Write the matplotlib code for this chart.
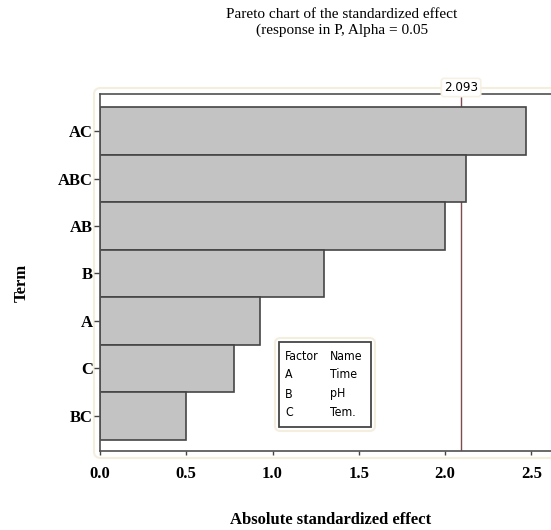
import numpy as np
import matplotlib.pyplot as plt
from matplotlib.patches import Rectangle, FancyBboxPatch

# data (top to bottom)
terms = ["AC", "ABC", "AB", "B", "A", "C", "BC"]
effects = [2.47, 2.12, 2.00, 1.30, 0.925, 0.775, 0.50]
ref_value = 2.093
x_ticks = [0.0, 0.5, 1.0, 1.5, 2.0, 2.5]
factor_rows = [("Factor", "Name"), ("A", "Time"), ("B", "pH"), ("C", "Tem.")]

W, H = 551, 530
fig = plt.figure(figsize=(W / 100, H / 100), dpi=100)

def fx(px):
    return px / W

def fy(py):
    return 1 - py / H

# faint beige rounded outline behind plot area
glow = FancyBboxPatch((fx(94), fy(458)), fx(480), fy(88) - fy(458),
                      boxstyle="round,pad=0,rounding_size=0.012",
                      transform=fig.transFigure, facecolor="none",
                      edgecolor="#f4eedf", lw=1.5, zorder=-1)
fig.patches.append(glow)

ax = fig.add_axes([fx(100), fy(451), 1 - fx(100), fy(94) - fy(451)])
ax.patch.set_alpha(0)

ypos = np.arange(len(terms))[::-1]
ax.barh(ypos, effects, height=1.0, color="#c3c3c3", edgecolor="#454545",
        lw=1.2, zorder=2)
ax.axvline(ref_value, color="#7d4c50", lw=1.0, zorder=1)

ax.set_xlim(0, (W - 100) / 172.5)
ax.set_ylim(-0.74, len(terms) - 1 + 0.78)

ax.set_yticks(ypos)
ax.set_yticklabels(terms, family="Liberation Serif", fontweight="bold", fontsize=12)
ax.set_xticks(x_ticks)
ax.set_xticklabels([f"{v:.1f}" for v in x_ticks], family="Liberation Serif",
                   fontweight="bold", fontsize=12)
ax.tick_params(axis="y", length=4, width=1, color="#454545", pad=1)
ax.tick_params(axis="x", length=3, width=1, color="#454545", pad=8)

for side in ["left", "top", "bottom"]:
    ax.spines[side].set_color("#505050")
    ax.spines[side].set_linewidth(1.2)
ax.spines["right"].set_visible(False)

# reference value label on a tab above the frame
ax.text(ref_value, 1.0, "2.093", transform=ax.get_xaxis_transform(),
        ha="center", va="bottom", fontsize=9.5, family="DejaVu Sans",
        fontstretch="condensed",
        bbox=dict(boxstyle="round,pad=0.2", facecolor="white",
                  edgecolor="#f6f1e4", lw=1.2))

# factor table
box = Rectangle((fx(279), fy(427)), fx(371) - fx(279), fy(342) - fy(427),
                transform=fig.transFigure, facecolor="white",
                edgecolor="#454545", lw=1.3, zorder=5)
fig.patches.append(box)
outer = FancyBboxPatch((fx(275), fy(431)), fx(100), fy(338) - fy(431),
                       boxstyle="round,pad=0,rounding_size=0.01",
                       transform=fig.transFigure, facecolor="none",
                       edgecolor="#f4eedf", lw=1.5, zorder=4)
fig.patches.append(outer)
row_y = [356, 375, 394, 413]
for (a, b), py in zip(factor_rows, row_y):
    fig.text(fx(285), fy(py), a, fontsize=8.8, va="center", ha="left",
             family="DejaVu Sans", fontstretch="condensed", zorder=6)
    fig.text(fx(330), fy(py), b, fontsize=8.8, va="center", ha="left",
             family="DejaVu Sans", fontstretch="condensed", zorder=6)

# titles and axis labels
fig.text(fx(342), fy(14), "Pareto chart of the standardized effect",
         ha="center", va="center", family="Liberation Serif", fontsize=11)
fig.text(fx(342), fy(30), "(response in P, Alpha = 0.05",
         ha="center", va="center", family="Liberation Serif", fontsize=11)
fig.text(fx(331), fy(520), "Absolute standardized effect", ha="center",
         va="center", family="Liberation Serif", fontweight="bold", fontsize=12)
fig.text(fx(22), fy(283), "Term", ha="center", va="center", rotation=90,
         family="Liberation Serif", fontweight="bold", fontsize=12)

fig.savefig("out.png", dpi=100)
